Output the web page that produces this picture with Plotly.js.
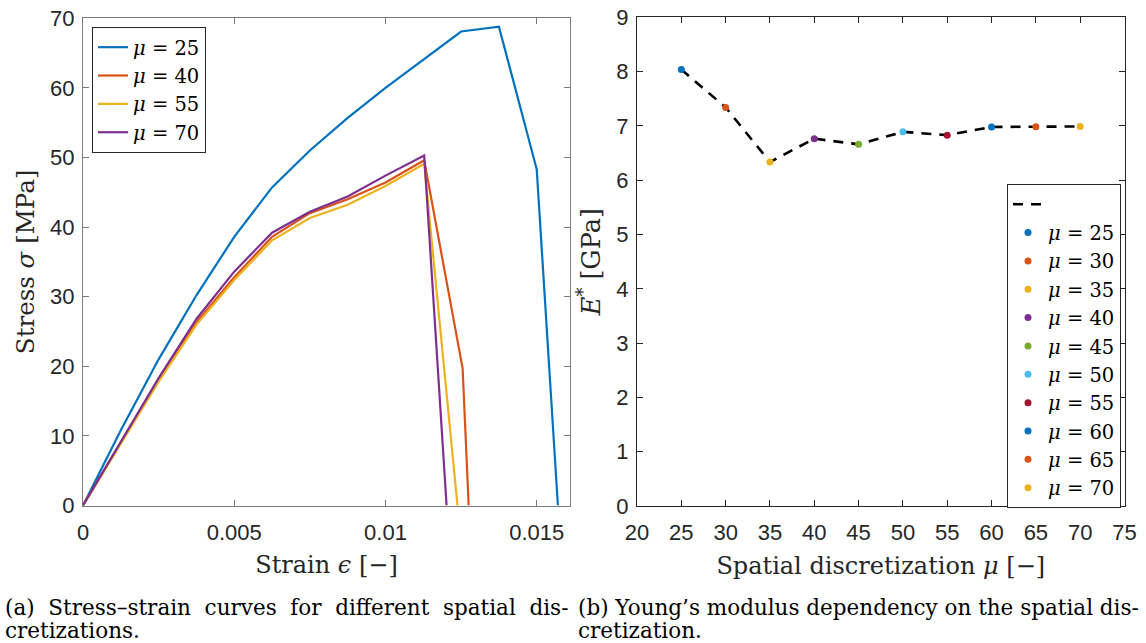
<!DOCTYPE html>
<html>
<head>
<meta charset="utf-8">
<script src="https://cdn.plot.ly/plotly-3.0.1.min.js"></script>
<style>html,body{margin:0;padding:0;background:#fff;}#chart{width:1146px;height:643px;}</style>
</head>
<body>
<div id="chart"></div>
<script>
// ---- Left panel data: stress-strain curves ----
const strain25 = [0, 0.00125, 0.0025, 0.00375, 0.005, 0.00625, 0.0075, 0.00875, 0.01, 0.01125, 0.0125, 0.01375, 0.015, 0.0157];
const stress25 = [0, 10.8, 21.0, 30.2, 38.6, 45.7, 51.0, 55.7, 60.0, 64.1, 68.1, 68.8, 48.3, 0];
const strain40 = [0, 0.00125, 0.0025, 0.00375, 0.005, 0.00625, 0.0075, 0.00875, 0.01, 0.01128, 0.01255, 0.01275];
const stress40 = [0, 8.9, 18.0, 26.3, 32.8, 38.6, 42.0, 44.0, 46.4, 49.6, 19.7, 0];
const strain55 = [0, 0.00125, 0.0025, 0.00375, 0.005, 0.00625, 0.0075, 0.00875, 0.01, 0.01128, 0.01238];
const stress55 = [0, 8.8, 17.8, 26.0, 32.4, 38.1, 41.3, 43.2, 45.9, 49.1, 0];
const strain70 = [0, 0.00125, 0.0025, 0.00375, 0.005, 0.00625, 0.0075, 0.00875, 0.01, 0.01128, 0.01202];
const stress70 = [0, 9.1, 18.3, 26.8, 33.6, 39.2, 42.2, 44.4, 47.4, 50.3, 0];
const leftNames = ['<i>μ</i> = 25', '<i>μ</i> = 40', '<i>μ</i> = 55', '<i>μ</i> = 70'];
const leftColors = ['#0072BD', '#D95319', '#EDB120', '#7E2F8E'];
const strainTickVals = [0, 0.005, 0.01, 0.015];
const strainTickText = ['0', '0.005', '0.01', '0.015'];

// ---- Right panel data: Young's modulus vs discretization ----
const mu = [25, 30, 35, 40, 45, 50, 55, 60, 65, 70];
const Emod = [8.04, 7.34, 6.335, 6.765, 6.66, 6.89, 6.83, 6.98, 6.985, 6.99];
const muColors = ['#0072BD', '#D95319', '#EDB120', '#7E2F8E', '#77AC30', '#4DBEEE', '#A2142F', '#0072BD', '#D95319', '#EDB120'];

const serif = 'DejaVu Serif, serif';
const sans = 'Liberation Sans, Arial, sans-serif';
const tickCol = '#262626';

const traces = [];
const leftX = [strain25, strain40, strain55, strain70];
const leftY = [stress25, stress40, stress55, stress70];
for (let i = 0; i < 4; i++) {
  traces.push({
    x: leftX[i], y: leftY[i], type: 'scatter', mode: 'lines', name: leftNames[i],
    line: {color: leftColors[i], width: 2.2}, xaxis: 'x', yaxis: 'y', legend: 'legend'
  });
}
traces.push({
  x: mu, y: Emod, type: 'scatter', mode: 'lines', name: ' ',
  line: {color: '#000000', width: 2.6, dash: '10px,8px'}, xaxis: 'x2', yaxis: 'y2', legend: 'legend2'
});
for (let i = 0; i < mu.length; i++) {
  traces.push({
    x: [mu[i]], y: [Emod[i]], type: 'scatter', mode: 'markers', name: '<i>μ</i> = ' + mu[i],
    marker: {color: muColors[i], size: 7}, xaxis: 'x2', yaxis: 'y2', legend: 'legend2'
  });
}

const W = 1146, H = 643;
const px = v => v / W, py = v => 1 - v / H;

function axisCommon(lineColor, standoff) {
  return {
    showgrid: false, zeroline: false, showline: true, linecolor: lineColor, linewidth: 1,
    mirror: 'ticks', ticks: 'inside', ticklen: 6, tickcolor: lineColor, tickwidth: 1,
    ticklabelstandoff: standoff,
    tickfont: {family: sans, size: 22, color: tickCol}, automargin: false
  };
}

const titleFont = {family: serif, size: 24, color: tickCol};
const legFont = {family: serif, size: 19.5, color: '#000'};
const capFont = {family: serif, size: 21.5, color: '#000'};

const layout = {
  width: W, height: H,
  margin: {l: 0, r: 0, t: 0, b: 0},
  paper_bgcolor: '#ffffff', plot_bgcolor: '#ffffff',
  showlegend: true,
  xaxis: Object.assign(axisCommon('#7a7a7a', 7), {
    domain: [px(83), px(570)], range: [0, 0.0161], anchor: 'y',
    tickvals: strainTickVals, ticktext: strainTickText,
    title: {text: 'Strain <i>ϵ</i> [−]', font: titleFont, standoff: 12}
  }),
  yaxis: Object.assign(axisCommon('#7a7a7a', 3), {
    domain: [py(505.5), py(18.3)], range: [0, 70], dtick: 10, anchor: 'x',
    title: {text: 'Stress <i>σ</i> [MPa]', font: {family: serif, size: 24.5, color: tickCol}, standoff: 8}
  }),
  xaxis2: Object.assign(axisCommon('#262626', 7), {
    domain: [px(637), px(1124.5)], range: [20, 75], dtick: 5, anchor: 'y2',
    title: {text: 'Spatial discretization <i>μ</i> [−]', font: titleFont, standoff: 12}
  }),
  yaxis2: Object.assign(axisCommon('#262626', 3), {
    domain: [py(506), py(17.3)], range: [0, 9], dtick: 1, anchor: 'x2',
    title: {text: '<i>E</i><sup>*</sup> [GPa]', font: {family: serif, size: 25.5, color: tickCol}, standoff: 8}
  }),
  legend: {
    x: px(92), y: py(27), xanchor: 'left', yanchor: 'top',
    bgcolor: '#ffffff', bordercolor: '#262626', borderwidth: 1,
    font: legFont, tracegroupgap: 0, itemwidth: 30
  },
  legend2: {
    x: px(1007), y: py(184), xanchor: 'left', yanchor: 'top',
    bgcolor: '#ffffff', bordercolor: '#262626', borderwidth: 1,
    font: legFont, tracegroupgap: 0, itemwidth: 30
  },
  annotations: [
    {xref: 'paper', yref: 'paper', x: px(3), y: py(607), xanchor: 'left', yanchor: 'middle', showarrow: false, align: 'left',
     text: '(a)&nbsp;&nbsp;Stress–strain&nbsp;&nbsp;curves&nbsp;&nbsp;for&nbsp;&nbsp;different&nbsp;&nbsp;spatial&nbsp;&nbsp;dis-', font: capFont},
    {xref: 'paper', yref: 'paper', x: px(3), y: py(630), xanchor: 'left', yanchor: 'middle', showarrow: false, align: 'left',
     text: 'cretizations.', font: capFont},
    {xref: 'paper', yref: 'paper', x: px(576), y: py(607), xanchor: 'left', yanchor: 'middle', showarrow: false, align: 'left',
     text: '(b) Young’s modulus dependency on the spatial dis-', font: capFont},
    {xref: 'paper', yref: 'paper', x: px(576), y: py(630), xanchor: 'left', yanchor: 'middle', showarrow: false, align: 'left',
     text: 'cretization.', font: capFont}
  ]
};

Plotly.newPlot('chart', traces, layout, {staticPlot: true, displayModeBar: false});
</script>
</body>
</html>
